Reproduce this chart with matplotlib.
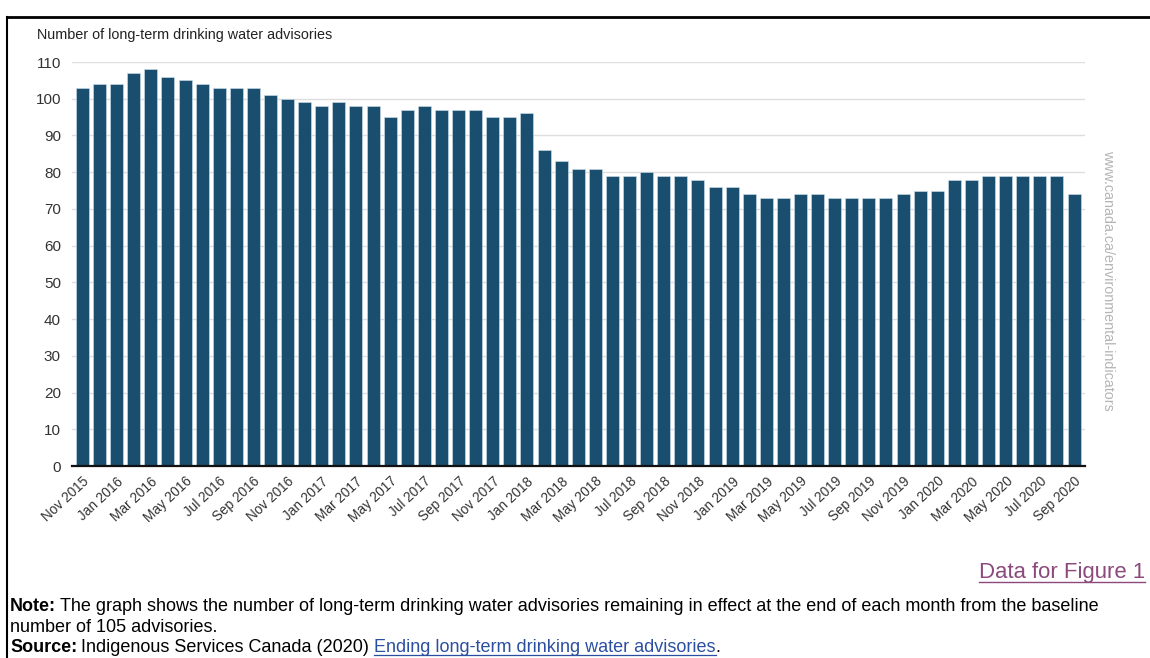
import matplotlib
matplotlib.use("Agg")
import matplotlib.pyplot as plt
from matplotlib.lines import Line2D

months = ["Nov 2015", "Dec 2015",
          "Jan 2016", "Feb 2016", "Mar 2016", "Apr 2016", "May 2016", "Jun 2016",
          "Jul 2016", "Aug 2016", "Sep 2016", "Oct 2016", "Nov 2016", "Dec 2016",
          "Jan 2017", "Feb 2017", "Mar 2017", "Apr 2017", "May 2017", "Jun 2017",
          "Jul 2017", "Aug 2017", "Sep 2017", "Oct 2017", "Nov 2017", "Dec 2017",
          "Jan 2018", "Feb 2018", "Mar 2018", "Apr 2018", "May 2018", "Jun 2018",
          "Jul 2018", "Aug 2018", "Sep 2018", "Oct 2018", "Nov 2018", "Dec 2018",
          "Jan 2019", "Feb 2019", "Mar 2019", "Apr 2019", "May 2019", "Jun 2019",
          "Jul 2019", "Aug 2019", "Sep 2019", "Oct 2019", "Nov 2019", "Dec 2019",
          "Jan 2020", "Feb 2020", "Mar 2020", "Apr 2020", "May 2020", "Jun 2020",
          "Jul 2020", "Aug 2020", "Sep 2020"]

advisories = [103, 104,
              104, 107, 108, 106, 105, 104, 103, 103, 103, 101, 100, 99,
              98, 99, 98, 98, 95, 97, 98, 97, 97, 97, 95, 95,
              96, 86, 83, 81, 81, 79, 79, 80, 79, 79, 78, 76,
              76, 74, 73, 73, 74, 74, 73, 73, 73, 73, 74, 75,
              75, 78, 78, 79, 79, 79, 79, 79, 74]

y_ticks = [0, 10, 20, 30, 40, 50, 60, 70, 80, 90, 100, 110]

FONT = ["Liberation Sans", "DejaVu Sans"]
plt.rcParams["font.family"] = FONT

W, H = 1150, 658
fig = plt.figure(figsize=(W / 100, H / 100), dpi=100)

ax = fig.add_axes([72 / W, 1 - 466 / H, (1085 - 72) / W, (466 - 62) / H])
x = list(range(len(months)))
ax.bar(x, advisories, width=0.76, color="#1a4e6e", edgecolor="#cfe3ef",
       linewidth=0.4, zorder=3)
ax.set_xlim(-0.61, len(months) - 1 + 0.64)
ax.set_ylim(0, 110)
ax.set_yticks(y_ticks)
ax.set_yticklabels([str(v) for v in y_ticks], fontsize=11, color="#333333")
ax.grid(axis="y", color="#dedede", linewidth=1.0, zorder=0)
for s in ["top", "right", "left"]:
    ax.spines[s].set_visible(False)
ax.spines["bottom"].set_color("#111111")
ax.spines["bottom"].set_linewidth(1.6)
ax.spines["bottom"].set_zorder(4)
ax.tick_params(axis="y", length=0, pad=8)
ax.tick_params(axis="x", length=0, pad=6)
ax.set_xticks(x[::2])
ax.set_xticklabels(months[::2], rotation=43, ha="right", va="top",
                   rotation_mode="anchor", fontsize=9.8, color="#333333")

fig.text(37 / W, 1 - 35 / H, "Number of long-term drinking water advisories",
         fontsize=10.4, color="#222222", va="center", ha="left")

fig.text(1108 / W, 1 - 280 / H, "www.canada.ca/environmental-indicators",
         rotation=-90, fontsize=10.3, color="#b5b5b5", ha="center", va="center")

# frame
fig.add_artist(Line2D([7 / W, 1.0], [1 - 17 / H, 1 - 17 / H], color="black",
                      linewidth=2.0, transform=fig.transFigure))
fig.add_artist(Line2D([7 / W, 7 / W], [1 - 17 / H, 0], color="black",
                      linewidth=1.5, transform=fig.transFigure))

# Data for Figure 1 link
link_color = "#8c4a7c"
t = fig.text(1145 / W, 1 - 578 / H, "Data for Figure 1", fontsize=15.9,
             color=link_color, ha="right", va="baseline")
fig.canvas.draw()
bb = t.get_window_extent()
uy = (H - 582) / H
fig.add_artist(Line2D([bb.x0 / W, bb.x1 / W], [uy, uy],
                      color=link_color, linewidth=1.0, transform=fig.transFigure))

fs = 13.0
y1, y2, y3 = 1 - 611 / H, 1 - 632 / H, 1 - 652 / H
note_lbl = fig.text(10 / W, y1, "Note:", fontsize=fs, fontweight="bold",
                    va="baseline", ha="left")
fig.canvas.draw()
b1 = note_lbl.get_window_extent()
fig.text((b1.x1 + 4) / W, y1,
         "The graph shows the number of long-term drinking water advisories remaining in effect at the end of each month from the baseline",
         fontsize=fs, va="baseline", ha="left")
fig.text(10 / W, y2, "number of 105 advisories.", fontsize=fs,
         va="baseline", ha="left")
src_lbl = fig.text(10 / W, y3, "Source:", fontsize=fs, fontweight="bold",
                   va="baseline", ha="left")
fig.canvas.draw()
b2 = src_lbl.get_window_extent()
s1 = fig.text((b2.x1 + 4) / W, y3, "Indigenous Services Canada (2020) ",
              fontsize=fs, va="baseline", ha="left")
fig.canvas.draw()
b3 = s1.get_window_extent()
blue = "#2b4fa0"
s2 = fig.text(b3.x1 / W, y3, "Ending long-term drinking water advisories",
              fontsize=fs, va="baseline", ha="left", color=blue)
fig.canvas.draw()
b4 = s2.get_window_extent()
uy3 = y3 - 2.5 / H
fig.add_artist(Line2D([b4.x0 / W, b4.x1 / W], [uy3, uy3],
                      color=blue, linewidth=0.9, transform=fig.transFigure))
fig.text(b4.x1 / W, y3, ".", fontsize=fs, va="baseline", ha="left")

fig.savefig("out.png", dpi=100)
